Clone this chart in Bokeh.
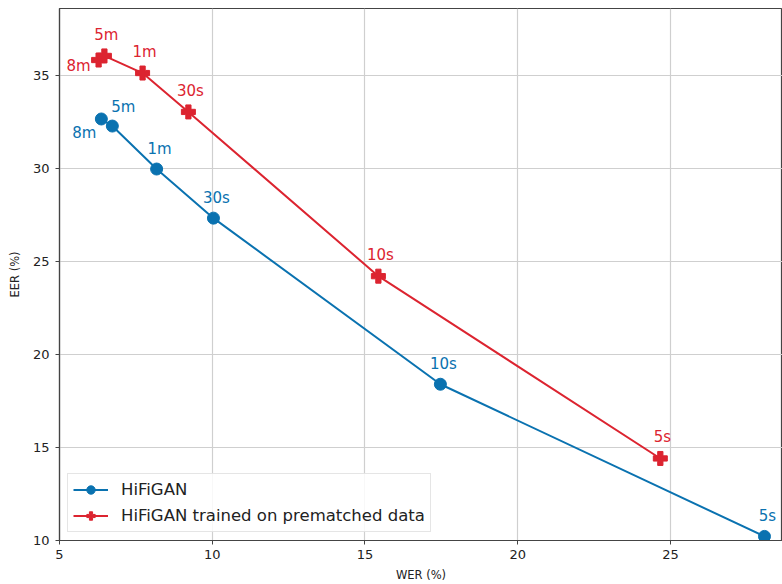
from bokeh.plotting import figure
from bokeh.models import ColumnDataSource, Range1d, Legend, LegendItem
from bokeh.embed import file_html
from bokeh.resources import INLINE
from bokeh.core.properties import value

# ---- data ----
durations = ["8m", "5m", "1m", "30s", "10s", "5s"]
hifigan_wer = [6.37, 6.73, 8.18, 10.04, 17.47, 28.08]
hifigan_eer = [32.66, 32.28, 29.97, 27.33, 18.40, 10.22]
prematched_wer = [6.28, 6.47, 7.72, 9.22, 15.44, 24.67]
prematched_eer = [35.83, 36.05, 35.13, 33.04, 24.21, 14.41]
series_names = ["HiFiGAN", "HiFiGAN trained on prematched data"]
x_label = "WER (%)"
y_label = "EER (%)"
x_ticks = [5, 10, 15, 20, 25]
y_ticks = [10, 15, 20, 25, 30, 35]

BLUE = "#0a72b0"
RED = "#dc2430"
FONT = "DejaVu Sans"

p = figure(width=782, height=584, output_backend="svg", toolbar_location=None,
           x_range=Range1d(5, 28.67), y_range=Range1d(10, 38.6),
           min_border_left=59, min_border_top=8, min_border_right=0, min_border_bottom=44)

p.background_fill_color = "white"
p.border_fill_color = "white"
p.outline_line_color = "#444444"
p.outline_line_width = 1.2

for ax in (p.xaxis, p.yaxis):
    ax.major_label_text_font = FONT
    ax.major_label_text_font_size = "13px"
    ax.major_label_text_color = "#222222"
    ax.axis_label_text_font = FONT
    ax.axis_label_text_font_size = "11.5px"
    ax.axis_label_text_font_style = "normal"
    ax.axis_label_text_color = "#222222"
    ax.axis_line_color = "#444444"
    ax.axis_line_width = 1.2
    ax.major_tick_line_color = "#444444"
    ax.major_tick_out = 4
    ax.major_tick_in = 0
    ax.minor_tick_line_color = None

p.xaxis.major_label_standoff = 5
p.xaxis.axis_label_standoff = 6
p.yaxis.major_label_standoff = 6
p.yaxis.axis_label_standoff = 8

p.xaxis.axis_label = x_label
p.yaxis.axis_label = y_label
p.xaxis.ticker = x_ticks
p.yaxis.ticker = y_ticks

p.grid.grid_line_color = "#cfcfcf"
p.grid.grid_line_width = 1.2

src_b = ColumnDataSource(dict(x=hifigan_wer, y=hifigan_eer, t=durations))
src_r = ColumnDataSource(dict(x=prematched_wer, y=prematched_eer, t=durations))

lb = p.line("x", "y", source=src_b, color=BLUE, line_width=2)
sb = p.scatter("x", "y", source=src_b, marker="circle", size=12, color=BLUE)
lr = p.line("x", "y", source=src_r, color=RED, line_width=2)
sr = p.scatter("x", "y", source=src_r, marker="plus", size=14, color=RED)

# point labels (first point of each series placed to the left)
def add_labels(xs, ys, texts, color, first_off, rest_off):
    for i, (x, y, t) in enumerate(zip(xs, ys, texts)):
        dx, dy = first_off if i == 0 else rest_off
        if i == 1 and color == BLUE:
            dx, dy = 11, 19
        p.text(x=[x], y=[y], text=[t], text_color=color,
               text_font=value(FONT), text_font_size="15px",
               text_align="center", text_baseline="middle",
               x_offset=dx, y_offset=-dy)

add_labels(hifigan_wer, hifigan_eer, durations, BLUE, (-17, -14), (3, 20))
add_labels(prematched_wer, prematched_eer, durations, RED, (-20, -6), (2, 21))

legend = Legend(items=[LegendItem(label=series_names[0], renderers=[lb, sb]),
                       LegendItem(label=series_names[1], renderers=[lr, sr])],
                location="bottom_left")
legend.label_text_font = FONT
legend.label_text_font_size = "16.5px"
legend.label_text_color = "#222222"
legend.border_line_color = "#cccccc"
legend.border_line_width = 1
legend.background_fill_alpha = 0.85
legend.glyph_width = 35
legend.glyph_height = 21
legend.label_height = 21
legend.label_standoff = 13
legend.padding = 5
legend.spacing = 5
legend.margin = 8
p.add_layout(legend, "center")

open("out.html", "w").write(file_html(p, INLINE))
